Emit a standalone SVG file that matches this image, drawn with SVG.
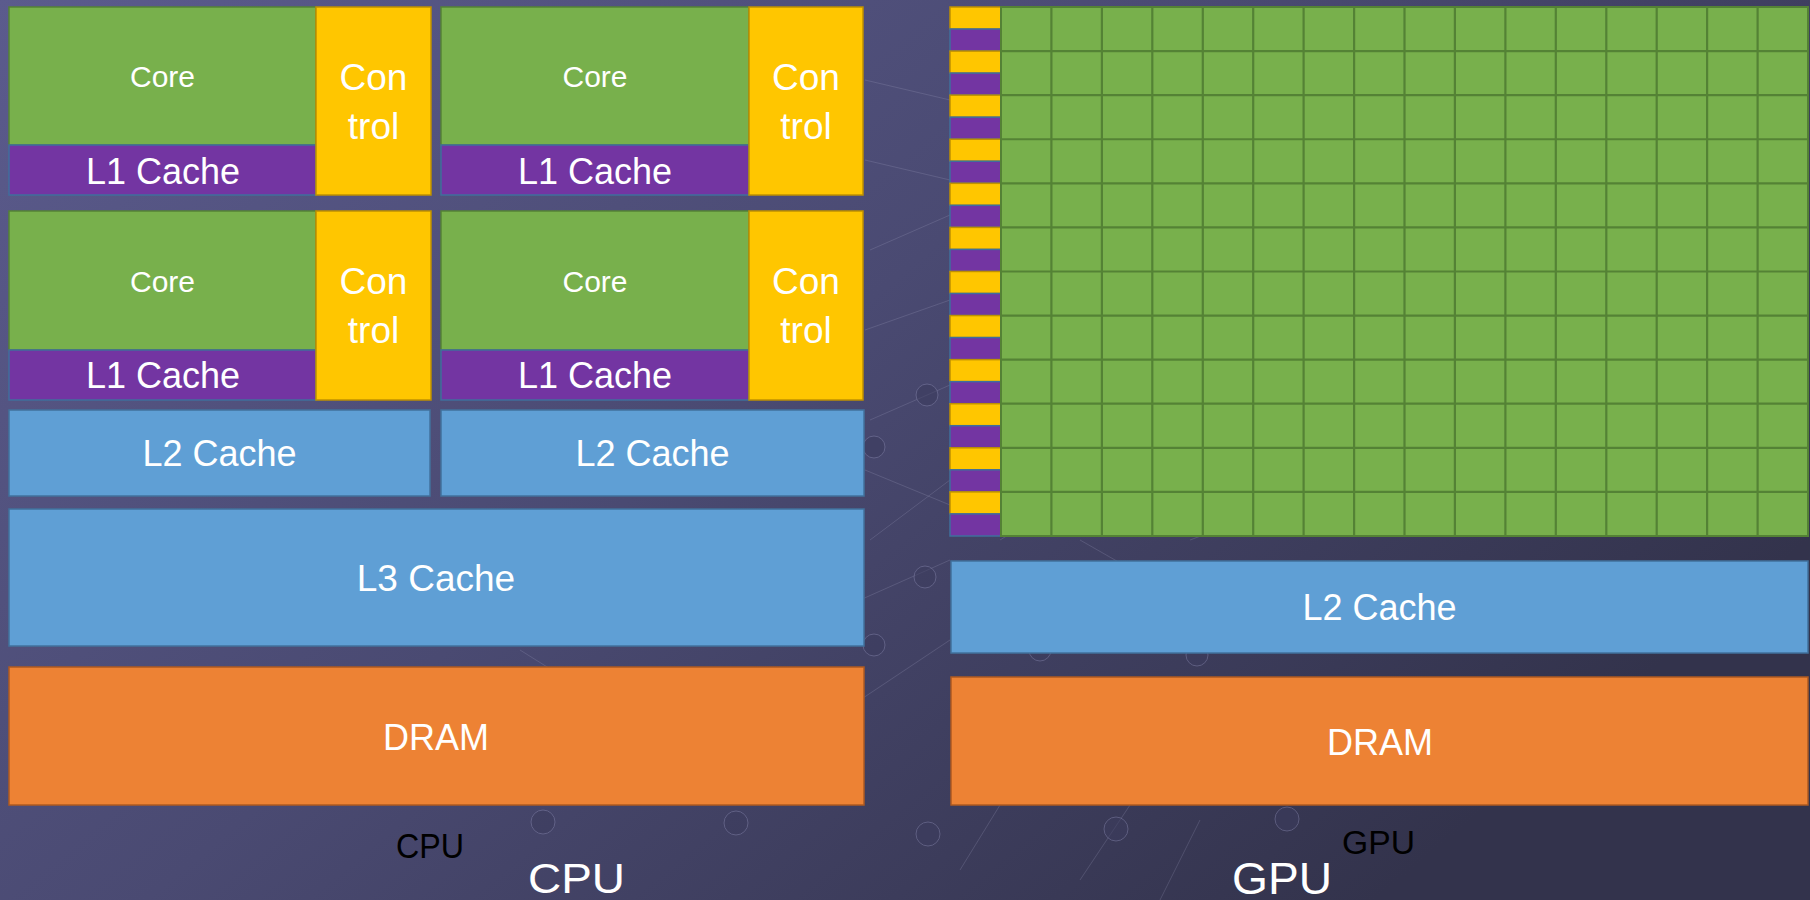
<svg xmlns="http://www.w3.org/2000/svg" width="1810" height="900" viewBox="0 0 1810 900">
<defs>
<linearGradient id="bg" x1="0" y1="0" x2="1" y2="0.6">
<stop offset="0" stop-color="#5b5b8d"/>
<stop offset="0.5" stop-color="#4a4a72"/>
<stop offset="1" stop-color="#33334c"/>
</linearGradient>
<style>
.core{fill:#78b04c;stroke:#548235;stroke-width:1.5}
.l1{fill:#7335a2;stroke:#3f6f9c;stroke-width:1.5}
.ctl{fill:#ffc600;stroke:#bf9000;stroke-width:1.5}
.l2{fill:#5f9fd5;stroke:#41719c;stroke-width:1.5}
.dram{fill:#ed8234;stroke:#ae5a21;stroke-width:1.5}
.t{font-family:"Liberation Sans",Arial,sans-serif;fill:#ffffff;text-anchor:middle}
.deco{stroke:#9a9abb;stroke-width:1;opacity:0.25;fill:none}
.dot{fill:#3c3c5e;stroke:#7a7aa0;stroke-width:1;opacity:0.55}
</style>
</defs>
<rect x="0" y="0" width="1810" height="900" fill="url(#bg)"/>
<g id="decoration">
<path class="deco" d="M865 80 L950 100 M865 160 L950 180 M870 250 L950 215 M865 330 L950 300 M870 420 L950 385 M865 470 L950 505 M870 540 L950 480 M520 650 L600 700 M1000 540 L1050 510 M1080 540 L1150 580 M1190 540 L1270 510 M1000 805 L960 870 M1130 805 L1080 880 M1200 820 L1160 900 M860 600 L950 560 M860 700 L950 640"/>
<circle class="dot" cx="927" cy="395" r="11"/>
<circle class="dot" cx="874" cy="447" r="11"/>
<circle class="dot" cx="925" cy="577" r="11"/>
<circle class="dot" cx="874" cy="645" r="11"/>
<circle class="dot" cx="543" cy="822" r="12"/>
<circle class="dot" cx="736" cy="823" r="12"/>
<circle class="dot" cx="928" cy="834" r="12"/>
<circle class="dot" cx="1116" cy="829" r="12"/>
<circle class="dot" cx="1287" cy="819" r="12"/>
<circle class="dot" cx="1040" cy="650" r="11"/>
<circle class="dot" cx="1197" cy="655" r="11"/>
</g>
<g id="cpu-core-1">
<rect class="core" x="9" y="7" width="307" height="138"/>
<text class="t" x="162.5" y="87" font-size="30">Core</text>
</g>
<g id="cpu-l1-1">
<rect class="l1" x="9" y="145" width="307" height="50"/>
<text class="t" x="163" y="184" font-size="36">L1 Cache</text>
</g>
<g id="cpu-control-1">
<rect class="ctl" x="316" y="7" width="115" height="188"/>
<text class="t" x="373.5" y="90" font-size="37">Con</text>
<text class="t" x="373.5" y="139" font-size="37">trol</text>
</g>
<g id="cpu-core-2">
<rect class="core" x="441" y="7" width="308" height="138"/>
<text class="t" x="595" y="87" font-size="30">Core</text>
</g>
<g id="cpu-l1-2">
<rect class="l1" x="441" y="145" width="308" height="50"/>
<text class="t" x="595" y="184" font-size="36">L1 Cache</text>
</g>
<g id="cpu-control-2">
<rect class="ctl" x="749" y="7" width="114" height="188"/>
<text class="t" x="806" y="90" font-size="37">Con</text>
<text class="t" x="806" y="139" font-size="37">trol</text>
</g>
<g id="cpu-core-3">
<rect class="core" x="9" y="211" width="307" height="139"/>
<text class="t" x="162.5" y="292" font-size="30">Core</text>
</g>
<g id="cpu-l1-3">
<rect class="l1" x="9" y="350" width="307" height="50"/>
<text class="t" x="163" y="388" font-size="36">L1 Cache</text>
</g>
<g id="cpu-control-3">
<rect class="ctl" x="316" y="211" width="115" height="189"/>
<text class="t" x="373.5" y="294" font-size="37">Con</text>
<text class="t" x="373.5" y="343" font-size="37">trol</text>
</g>
<g id="cpu-core-4">
<rect class="core" x="441" y="211" width="308" height="139"/>
<text class="t" x="595" y="292" font-size="30">Core</text>
</g>
<g id="cpu-l1-4">
<rect class="l1" x="441" y="350" width="308" height="50"/>
<text class="t" x="595" y="388" font-size="36">L1 Cache</text>
</g>
<g id="cpu-control-4">
<rect class="ctl" x="749" y="211" width="114" height="189"/>
<text class="t" x="806" y="294" font-size="37">Con</text>
<text class="t" x="806" y="343" font-size="37">trol</text>
</g>
<g id="cpu-l2-1">
<rect class="l2" x="9" y="410" width="421" height="86"/>
<text class="t" x="219.5" y="466" font-size="36">L2 Cache</text>
</g>
<g id="cpu-l2-2">
<rect class="l2" x="441" y="410" width="423" height="86"/>
<text class="t" x="652.5" y="466" font-size="36">L2 Cache</text>
</g>
<g id="cpu-l3">
<rect class="l2" x="9" y="509" width="855" height="137"/>
<text class="t" x="436" y="591" font-size="37">L3 Cache</text>
</g>
<g id="cpu-dram">
<rect class="dram" x="9" y="667" width="855" height="138"/>
<text class="t" x="436" y="750" font-size="36">DRAM</text>
</g>
<g id="gpu-control-strip">
<rect class="ctl" x="950" y="7" width="51" height="22"/><rect class="l1" x="950" y="29" width="51" height="22.08"/>
<rect class="ctl" x="950" y="51.08" width="51" height="22"/><rect class="l1" x="950" y="73.08" width="51" height="22.08"/>
<rect class="ctl" x="950" y="95.16" width="51" height="22"/><rect class="l1" x="950" y="117.16" width="51" height="22.08"/>
<rect class="ctl" x="950" y="139.24" width="51" height="22"/><rect class="l1" x="950" y="161.24" width="51" height="22.08"/>
<rect class="ctl" x="950" y="183.32" width="51" height="22"/><rect class="l1" x="950" y="205.32" width="51" height="22.08"/>
<rect class="ctl" x="950" y="227.4" width="51" height="22"/><rect class="l1" x="950" y="249.4" width="51" height="22.08"/>
<rect class="ctl" x="950" y="271.48" width="51" height="22"/><rect class="l1" x="950" y="293.48" width="51" height="22.08"/>
<rect class="ctl" x="950" y="315.56" width="51" height="22"/><rect class="l1" x="950" y="337.56" width="51" height="22.08"/>
<rect class="ctl" x="950" y="359.64" width="51" height="22"/><rect class="l1" x="950" y="381.64" width="51" height="22.08"/>
<rect class="ctl" x="950" y="403.72" width="51" height="22"/><rect class="l1" x="950" y="425.72" width="51" height="22.08"/>
<rect class="ctl" x="950" y="447.8" width="51" height="22"/><rect class="l1" x="950" y="469.8" width="51" height="22.08"/>
<rect class="ctl" x="950" y="491.88" width="51" height="22"/><rect class="l1" x="950" y="513.88" width="51" height="22.12"/>
</g>
<g id="gpu-cores">
<rect x="1001" y="7" width="807" height="529" fill="#78b04c" stroke="#548235" stroke-width="2"/>
<path stroke="#548235" stroke-width="2.2" fill="none" d="M1051.4 7V536M1101.9 7V536M1152.3 7V536M1202.8 7V536M1253.2 7V536M1303.6 7V536M1354.1 7V536M1404.5 7V536M1454.9 7V536M1505.4 7V536M1555.8 7V536M1606.3 7V536M1656.7 7V536M1707.1 7V536M1757.6 7V536M1001 51.08H1808M1001 95.16H1808M1001 139.24H1808M1001 183.32H1808M1001 227.4H1808M1001 271.48H1808M1001 315.56H1808M1001 359.64H1808M1001 403.72H1808M1001 447.8H1808M1001 491.88H1808"/>
</g>
<g id="gpu-l2">
<rect class="l2" x="951" y="561" width="857" height="92"/>
<text class="t" x="1379.5" y="620" font-size="36">L2 Cache</text>
</g>
<g id="gpu-dram">
<rect class="dram" x="951" y="677" width="857" height="128"/>
<text class="t" x="1380" y="755" font-size="36">DRAM</text>
</g>
<g id="labels">
<text x="430" y="858" font-family="Liberation Sans, Arial, sans-serif" font-size="35" fill="#000000" text-anchor="middle" textLength="68" lengthAdjust="spacingAndGlyphs">CPU</text>
<text x="1378.5" y="854" font-family="Liberation Sans, Arial, sans-serif" font-size="33" fill="#000000" text-anchor="middle" textLength="73" lengthAdjust="spacingAndGlyphs">GPU</text>
<text class="t" x="576.5" y="893" font-size="43" textLength="97" lengthAdjust="spacingAndGlyphs">CPU</text>
<text class="t" x="1282" y="894" font-size="44" textLength="100" lengthAdjust="spacingAndGlyphs">GPU</text>
</g>
</svg>
